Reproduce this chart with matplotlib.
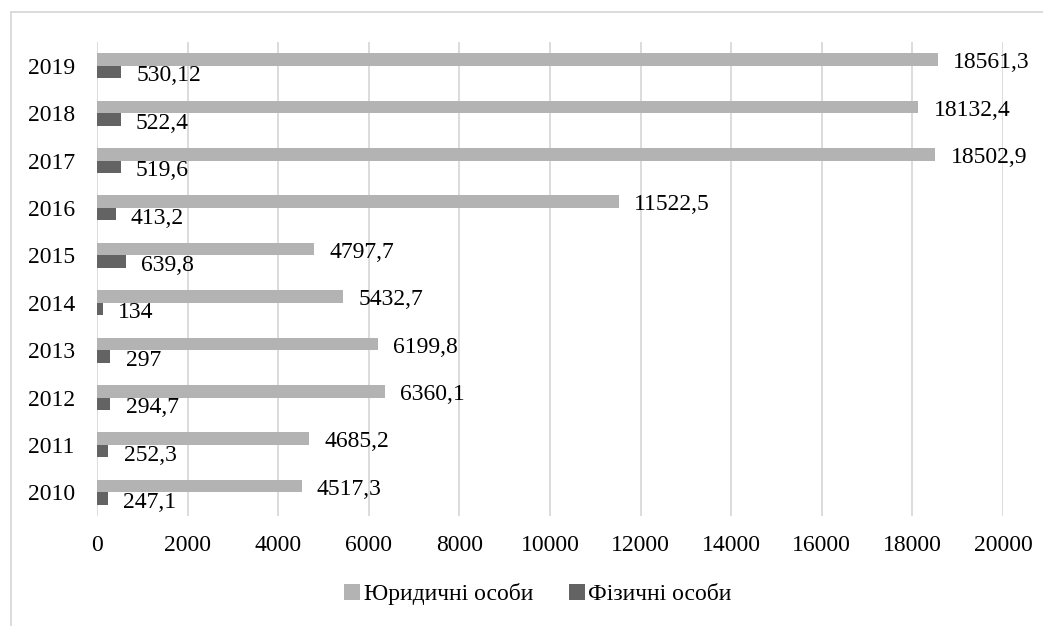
import matplotlib
matplotlib.use("Agg")
import matplotlib.pyplot as plt
from matplotlib.lines import Line2D
from matplotlib.patches import Patch
import numpy as np

years = ["2010", "2011", "2012", "2013", "2014", "2015", "2016", "2017", "2018", "2019"]
legal = [4517.3, 4685.2, 6360.1, 6199.8, 5432.7, 4797.7, 11522.5, 18502.9, 18132.4, 18561.3]
phys = [247.1, 252.3, 294.7, 297, 134, 639.8, 413.2, 519.6, 522.4, 530.12]
legal_labels = ["4517,3", "4685,2", "6360,1", "6199,8", "5432,7", "4797,7", "11522,5", "18502,9", "18132,4", "18561,3"]
phys_labels = ["247,1", "252,3", "294,7", "297", "134", "639,8", "413,2", "519,6", "522,4", "530,12"]
series_names = ["Юридичні особи", "Фізичні особи"]
xticks = [0, 2000, 4000, 6000, 8000, 10000, 12000, 14000, 16000, 18000, 20000]

plt.rcParams['font.family'] = ['Liberation Serif', 'DejaVu Serif']
FS = 17
W, H = 1043, 626
fig = plt.figure(figsize=(W / 100, H / 100), dpi=100)
ax = fig.add_axes([97 / W, 1 - 516 / H, (1003 - 97) / W, (516 - 42) / H])

c_light = "#B3B3B3"
c_dark = "#636363"
bh = 0.264
y = np.arange(len(years))
ax.barh(y + bh / 2, legal, height=bh, color=c_light, zorder=3)
ax.barh(y - bh / 2, phys, height=bh, color=c_dark, zorder=3)

for i in range(len(years)):
    ax.annotate(legal_labels[i], (legal[i], y[i] + bh / 2), xytext=(11, -0.5), textcoords="offset points",
                ha="left", va="center_baseline", fontsize=FS, color="#000000", zorder=4)
    ax.annotate(phys_labels[i], (phys[i], y[i] - bh / 2), xytext=(11, -1), textcoords="offset points",
                ha="left", va="center_baseline", fontsize=FS, color="#000000", zorder=4)

ax.set_xlim(0, 20000)
ax.set_ylim(-0.5, len(years) - 0.5)
ax.set_xticks(xticks)
ax.set_xticklabels([str(t) for t in xticks], fontsize=FS)
ax.set_yticks(y)
ax.set_yticklabels(years, fontsize=FS)
ax.tick_params(axis="both", length=0)
ax.tick_params(axis="x", pad=14)
ax.tick_params(axis="y", pad=16)
for s in ax.spines.values():
    s.set_visible(False)
ax.grid(axis="x", color="#D9D9D9", linewidth=1.3, zorder=0)
ax.set_axisbelow(True)

handles = [Patch(facecolor=c_light, edgecolor="none"), Patch(facecolor=c_dark, edgecolor="none")]
fig.legend(handles, series_names, loc="center", bbox_to_anchor=(538 / W, 1 - 594 / H), ncol=2,
           frameon=False, fontsize=FS, handlelength=0.68, handleheight=0.68, handletextpad=0.15,
           columnspacing=1.5)

fig.add_artist(Line2D([11 / W, 11 / W], [0, 1 - 12 / H], transform=fig.transFigure, color="#D9D9D9", linewidth=1.3))
fig.add_artist(Line2D([11 / W, 1], [1 - 12 / H, 1 - 12 / H], transform=fig.transFigure, color="#D9D9D9", linewidth=1.3))

fig.savefig("out.png", dpi=100, facecolor="white")
